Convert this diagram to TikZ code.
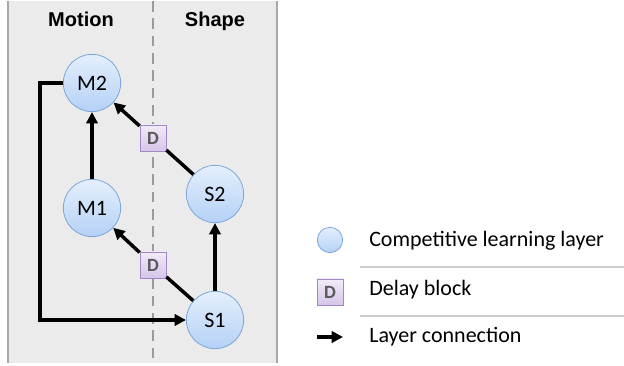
\documentclass[tikz,border=0pt]{standalone}
\usepackage{fontspec}
\setmainfont{Carlito}
\newfontfamily\headfont{Liberation Sans}
\usetikzlibrary{arrows.meta}
\definecolor{panelgray}{HTML}{EBEBEB}
\definecolor{rimgray}{HTML}{A8A8A8}
\definecolor{dashgray}{HTML}{9A9A9A}
\definecolor{layertop}{HTML}{E4EFFC}
\definecolor{layerbot}{HTML}{B5D1F6}
\definecolor{layerrim}{HTML}{7DA6DA}
\definecolor{delaytop}{HTML}{F2EAF8}
\definecolor{delaybot}{HTML}{D6C5EA}
\definecolor{delayrim}{HTML}{9F88C4}
\definecolor{delaytext}{HTML}{595959}
\definecolor{rulegray}{HTML}{CCCCCC}

\begin{document}
\begin{tikzpicture}[x=0.75pt,y=0.75pt]
\tikzstyle{every node}+=[inner sep=0pt]
\tikzstyle{layer}=[circle,draw=layerrim,line width=0.6pt,top color=layertop,bottom color=layerbot,minimum size=43pt,font=\fontsize{16.5}{19}\selectfont]
\tikzstyle{delay}=[rectangle,draw=delayrim,line width=0.6pt,top color=delaytop,bottom color=delaybot,minimum size=19.5pt,text=delaytext,font=\bfseries\fontsize{14}{16}\selectfont]
\tikzstyle{link}=[black,line width=2.6pt]
\tikzstyle{conn}=[link,-{Triangle[length=8.5pt,width=8.5pt]}]
\tikzstyle{head}=[anchor=base,font=\headfont\bfseries\fontsize{15}{18}\selectfont]
\tikzstyle{key}=[anchor=base west,font=\fontsize{16.5}{19}\selectfont]
\useasboundingbox (0,0) rectangle (624,-366);
\fill [panelgray] (8,-1) rectangle (277,-363);
\draw [rimgray,line width=1.5pt] (8,-1) -- (8,-363);
\draw [rimgray,line width=1.5pt] (277,-1) -- (277,-363);
\draw [dashgray,line width=1.5pt,dash pattern=on 8pt off 5pt] (153,-1) -- (153,-363);
\node [head] (motion) at (81,-26.5) {Motion};
\node [head] (shape) at (215,-26.5) {Shape};
\node [layer] (M2) at (92,-83) {M2};
\node [layer] (M1) at (92,-208) {M1};
\node [layer] (S2) at (215,-194) {S2};
\node [layer] (S1) at (215,-320) {S1};
\node [delay] (D2) at (153,-138) {D};
\node [delay] (D1) at (153,-265) {D};
\draw [conn] (M1) -- (M2);
\draw [conn] (S1) -- (S2);
\draw [link] (S1) -- (D1);
\draw [conn] (D1) -- (M1);
\draw [link] (S2) -- (D2);
\draw [conn] (D2) -- (M2);
\draw [conn] (M2.west) -- ++(-23,0) |- (S1.west);
\node [layer,minimum size=19pt] (keylayer) at (330,-240) {};
\node [delay] (keydelay) at (330,-292) {D};
\coordinate (keyfrom) at (317,-337);
\coordinate (keyto) at (343,-337);
\draw [conn] (keyfrom) -- (keyto);
\node [key] (keylayertext) at (369,-246.5) {Competitive learning layer};
\node [key] (keydelaytext) at (369,-295.5) {Delay block};
\node [key] (keyconntext) at (369,-343) {Layer connection};
\draw [rulegray,line width=1.2pt] (360,-267) -- (624,-267);
\draw [rulegray,line width=1.2pt] (360,-316) -- (624,-316);
\end{tikzpicture}
\end{document}
